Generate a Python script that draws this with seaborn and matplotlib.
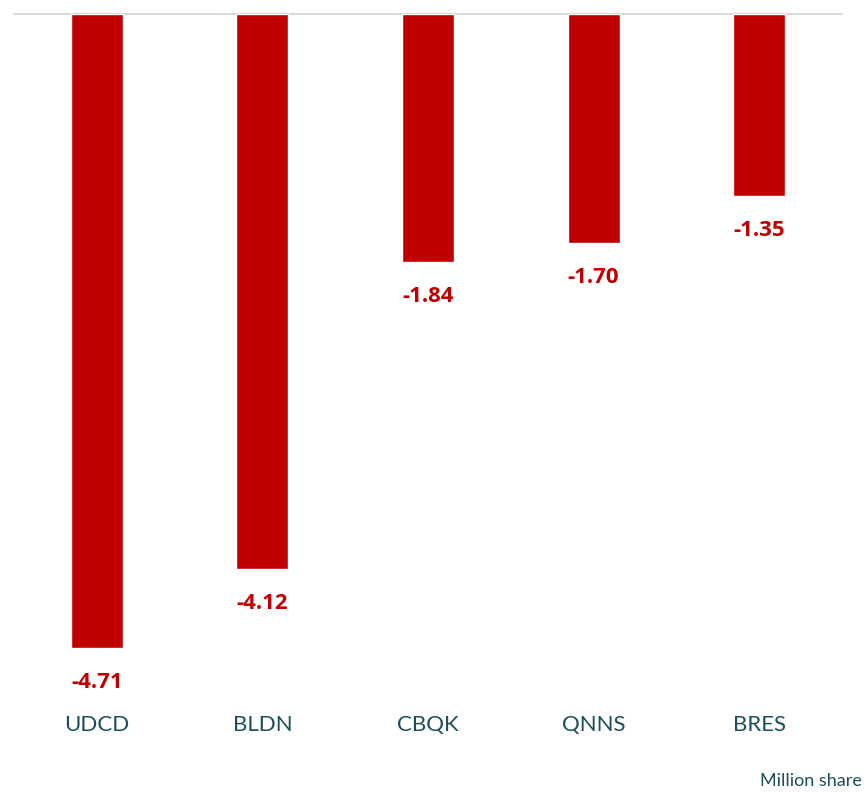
import matplotlib
matplotlib.use("Agg")
import pandas as pd
import matplotlib.pyplot as plt
import seaborn as sns

# Data
tickers = ["UDCD", "BLDN", "CBQK", "QNNS", "BRES"]
values = [-4.71, -4.12, -1.84, -1.70, -1.35]

df = pd.DataFrame({"Ticker": tickers, "Value": values})

sns.set_style("white")
plt.rcParams["font.family"] = ["Lato", "DejaVu Sans"]

fig = plt.figure(figsize=(8.68, 7.92), dpi=100)
ax = fig.add_axes([14 / 868, 92 / 792, 828 / 868, 686 / 792])

sns.barplot(data=df, x="Ticker", y="Value", color="#C00000", width=0.313,
            saturation=1, ax=ax)

ax.set_xlim(-0.5, 4.5)
ax.set_ylim(-5.097, 0)
ax.axhline(0, color="#D9D9D9", lw=1.5, clip_on=False, zorder=0)

# Value labels below bars
for i, v in enumerate(values):
    ax.annotate(f"{v:.2f}", (i, v), xytext=(0, -25), textcoords="offset points",
                ha="center", va="center", fontsize=16, fontweight="bold",
                color="#C00000", family=["Open Sans", "DejaVu Sans"])

sns.despine(ax=ax, left=True, bottom=True, top=True, right=True)
ax.set_yticks([])
ax.set_xlabel("")
ax.set_ylabel("")
ax.tick_params(axis="x", length=0, pad=11, labelsize=16, labelcolor="#1D4E5C")

fig.text(862 / 868, 1 - 781 / 792, "Million share", ha="right", va="center",
         fontsize=13, color="#1D4E5C")

plt.savefig("out.png", dpi=100)
